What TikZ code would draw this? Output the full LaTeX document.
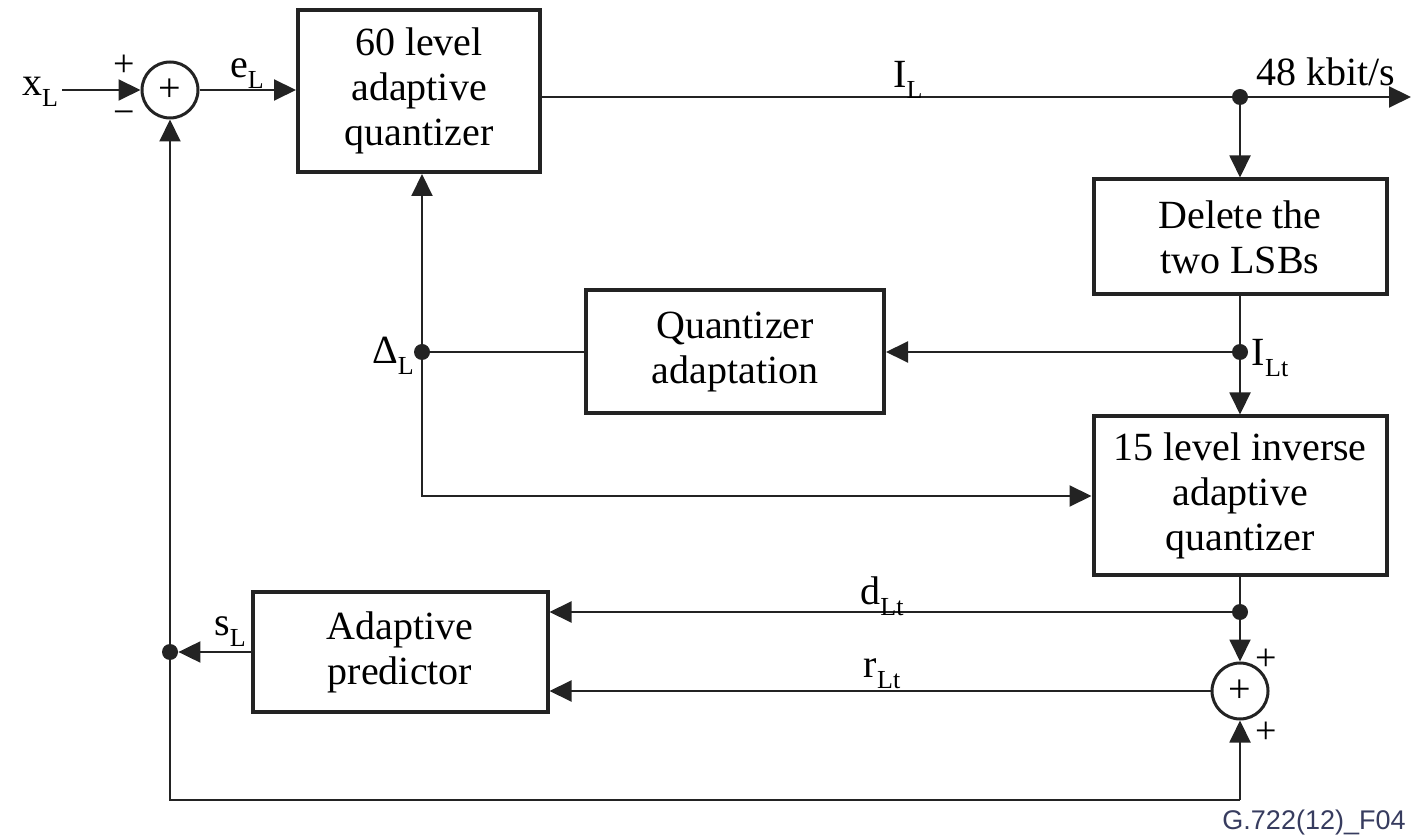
\documentclass[tikz,border=0pt]{standalone}
\usepackage{fontspec}
\setmainfont{Liberation Serif}
\newfontfamily\tagfont{Liberation Sans}
\usetikzlibrary{arrows.meta, positioning, calc}
\definecolor{wiregray}{RGB}{35, 35, 35}
\definecolor{tagblue}{RGB}{55, 60, 95}

% subscript as printed in the figure (small, well below the baseline)
\newcommand{\lowsub}[1]{\raisebox{-5.5pt}{\fontsize{13}{13}\selectfont #1}}

\tikzset{
  block/.style={draw=wiregray, line width=2pt, align=center, inner sep=0pt,
    font=\fontsize{20}{22.5}\selectfont},
  summer/.style={draw=wiregray, circle, line width=1.5pt, minimum size=28pt,
    inner sep=0pt, font=\fontsize{20}{20}\selectfont},
  sig/.style={line width=1pt, wiregray, -{Triangle[length=11pt, width=10.5pt]}},
  wire/.style={line width=1pt, wiregray},
  junct/.style={circle, fill=wiregray, inner sep=0pt, minimum size=8pt},
  lbl/.style={inner sep=0pt, font=\fontsize{20}{22}\selectfont},
  sign/.style={inner sep=0pt, font=\fontsize{19}{19}\selectfont},
}

\begin{document}
\begin{tikzpicture}[x=0.5pt, y=-0.5pt]
  \useasboundingbox (0, 0) rectangle (1412, 838);

  % ── Blocks ────────────────────────────────────────────────────────────────
  \node[block, minimum width=121pt, minimum height=81pt] (quant) at (419, 91)
    {60 level\\adaptive\\quantizer};
  \node[block, minimum width=146.5pt, minimum height=57.5pt] (delete) at (1240, 237)
    {Delete the\\two LSBs};
  \node[block, minimum width=149pt, minimum height=61.5pt] (qadapt) at (735, 352)
    {Quantizer\\adaptation};
  \node[block, minimum width=146.5pt, minimum height=79.5pt] (invq) at (1240, 496)
    {15 level inverse\\adaptive\\quantizer};
  \node[block, minimum width=147.5pt, minimum height=59.5pt] (pred) at (400, 652)
    {Adaptive\\predictor};

  % ── Adders ────────────────────────────────────────────────────────────────
  \node[summer] (sum1) at (170, 90) {+};
  \node[summer] (sum2) at (1240, 691) {+};

  % ── Junctions and corners ─────────────────────────────────────────────────
  \node[junct] (dotIL)    at (1240, 97)  {};
  \node[junct] (dotILt)   at (1240, 352) {};
  \node[junct] (dotDelta) at (422, 352)  {};
  \node[junct] (dotdLt)   at (1240, 612) {};
  \node[junct] (dotsL)    at (170, 652)  {};
  \coordinate (xin)   at (62, 90);
  \coordinate (out)   at (1411, 97);
  \coordinate (botL)  at (170, 800);
  \coordinate (botR)  at (1240, 800);

  % ── Forward path ──────────────────────────────────────────────────────────
  \draw[sig] (xin) -- (sum1.west);
  \draw[sig] (sum1.east) -- (sum1.east -| quant.west);
  \draw[wire] (dotIL -| quant.east) -- (dotIL.center);
  \draw[sig] (dotIL.center) -- (out);
  \draw[sig] (dotIL.center) -- (delete.north);
  \draw[wire] (delete.south) -- (dotILt.center);
  \draw[sig] (dotILt.center) -- (invq.north);

  % ── Step size adaptation ──────────────────────────────────────────────────
  \draw[sig] (dotILt.center) -- (dotILt -| qadapt.east);
  \draw[wire] (qadapt.west) -- (dotDelta.center);
  \draw[sig] (dotDelta.center) -- (dotDelta |- quant.south);
  \draw[sig] (dotDelta.center) |- (invq.west);

  % ── Reconstruction and prediction ─────────────────────────────────────────
  \draw[wire] (invq.south) -- (dotdLt.center);
  \draw[sig] (dotdLt.center) -- (sum2.north);
  \draw[sig] (dotdLt.center) -- (dotdLt -| pred.east);
  \draw[sig] (sum2.west) -- (sum2.west -| pred.east);
  \draw[sig] (pred.west |- dotsL) -- (dotsL.east);
  \draw[sig] (dotsL.center) -- (sum1.south);
  \draw[wire] (dotsL.center) -- (botL) -- (botR);
  \draw[sig] (botR) -- (sum2.south);

  % ── Signal labels ─────────────────────────────────────────────────────────
  \node[lbl] (xL)   at (40, 92)    {x\lowsub{L}};
  \node[lbl] (eL)   at (247, 74)   {e\lowsub{L}};
  \node[lbl] (IL)   at (908, 80)   {I\lowsub{L}};
  \node[lbl] (rate) at (1326, 72)  {48 kbit/s};
  \node[lbl] (ILt)  at (1270, 358) {I\lowsub{Lt}};
  \node[lbl] (DL)   at (393, 356)  {Δ\lowsub{L}};
  \node[lbl] (dLt)  at (882, 596)  {d\lowsub{Lt}};
  \node[lbl] (rLt)  at (882, 674)  {r\lowsub{Lt}};
  \node[lbl] (sL)   at (230, 632)  {s\lowsub{L}};

  % ── Adder signs ───────────────────────────────────────────────────────────
  \node[sign] (s1p) at (124, 66)   {+};
  \node[sign] (s1m) at (124, 118)  {\textminus};
  \node[sign] (s2a) at (1266, 660) {+};
  \node[sign] (s2b) at (1266, 733) {+};

  % ── Figure tag ────────────────────────────────────────────────────────────
  \node[inner sep=0pt, text=tagblue, font=\tagfont\fontsize{13.5}{14}\selectfont]
    (tag) at (1314, 823) {G.722(12)\_F04};
\end{tikzpicture}
\end{document}
